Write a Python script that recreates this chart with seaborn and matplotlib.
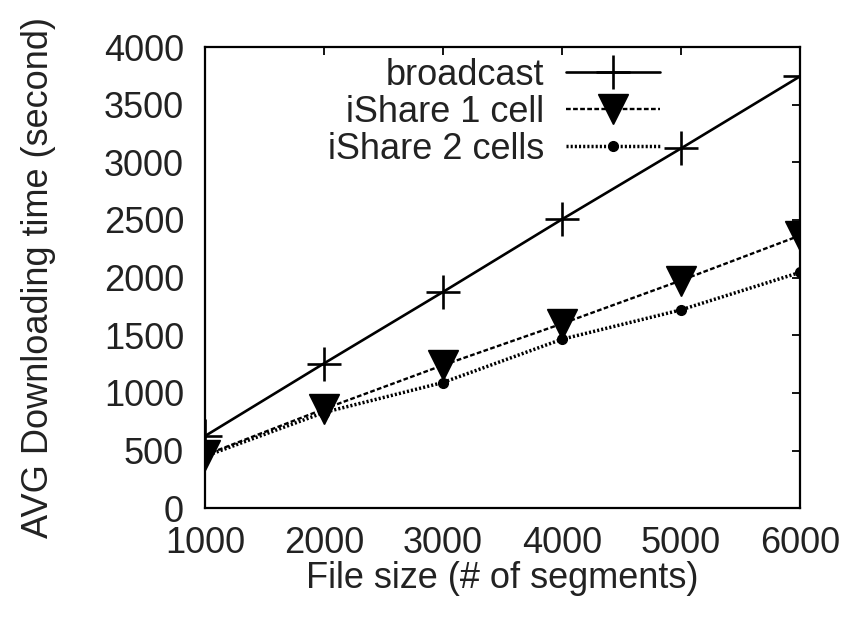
import matplotlib
matplotlib.use("Agg")
import matplotlib.pyplot as plt
import seaborn as sns
import pandas as pd

file_sizes = [1000, 2000, 3000, 4000, 5000, 6000]
broadcast = [625, 1255, 1875, 2505, 3120, 3745]
ishare_1cell = [460, 860, 1240, 1600, 1975, 2365]
ishare_2cells = [450, 830, 1090, 1465, 1720, 2045]
series_names = ["broadcast", "iShare 1 cell", "iShare 2 cells"]
x_ticks = [1000, 2000, 3000, 4000, 5000, 6000]
y_ticks = [0, 500, 1000, 1500, 2000, 2500, 3000, 3500, 4000]

sns.set_theme(style="white")
plt.rcParams["font.family"] = ["Liberation Sans", "DejaVu Sans"]

FS = 26

fig = plt.figure(figsize=(8.5, 6.19), dpi=100)
ax = fig.add_axes([0.241, 0.179, 0.700, 0.745])

styles = [
    dict(ls="-", marker="+", ms=24, mew=1.9, lw=1.9),
    dict(ls=(0, (2.0, 1.0)), marker="v", ms=21, mew=1, lw=1.7),
    dict(ls=(0, (0.6, 0.6)), marker="o", ms=7, mew=1, lw=2.5),
]
for name, vals, st in zip(series_names, [broadcast, ishare_1cell, ishare_2cells], styles):
    df = pd.DataFrame({"x": file_sizes, "y": vals})
    sns.lineplot(data=df, x="x", y="y", ax=ax, color="black", label=name,
                 linestyle=st["ls"], marker=st["marker"], markersize=st["ms"],
                 markeredgewidth=st["mew"], linewidth=st["lw"],
                 markerfacecolor="black", markeredgecolor="black")

ax.set_xlim(1000, 6000)
ax.set_ylim(0, 4000)
ax.set_xticks(x_ticks)
ax.set_yticks(y_ticks)
ax.tick_params(axis="x", pad=13)
ax.tick_params(axis="y", pad=15)
ax.tick_params(axis="both", direction="in", length=6, width=1.3, labelsize=FS,
               top=True, right=True, color="black", labelcolor="#222222")
for s in ax.spines.values():
    s.set_color("black")
    s.set_linewidth(1.6)
ax.set_xlabel("File size (# of segments)", fontsize=FS, color="#222222", labelpad=0)
ax.set_ylabel("AVG Downloading time (second)", fontsize=FS, color="#222222", labelpad=34)

leg = ax.legend(loc="upper right", bbox_to_anchor=(0.765, 0.976), markerfirst=False,
                frameon=False, fontsize=FS, handlelength=2.6, handletextpad=0.6,
                labelspacing=0.05, borderaxespad=0, borderpad=0)
for t in leg.get_texts():
    t.set_color("#222222")

fig.savefig("out.png", dpi=100)
